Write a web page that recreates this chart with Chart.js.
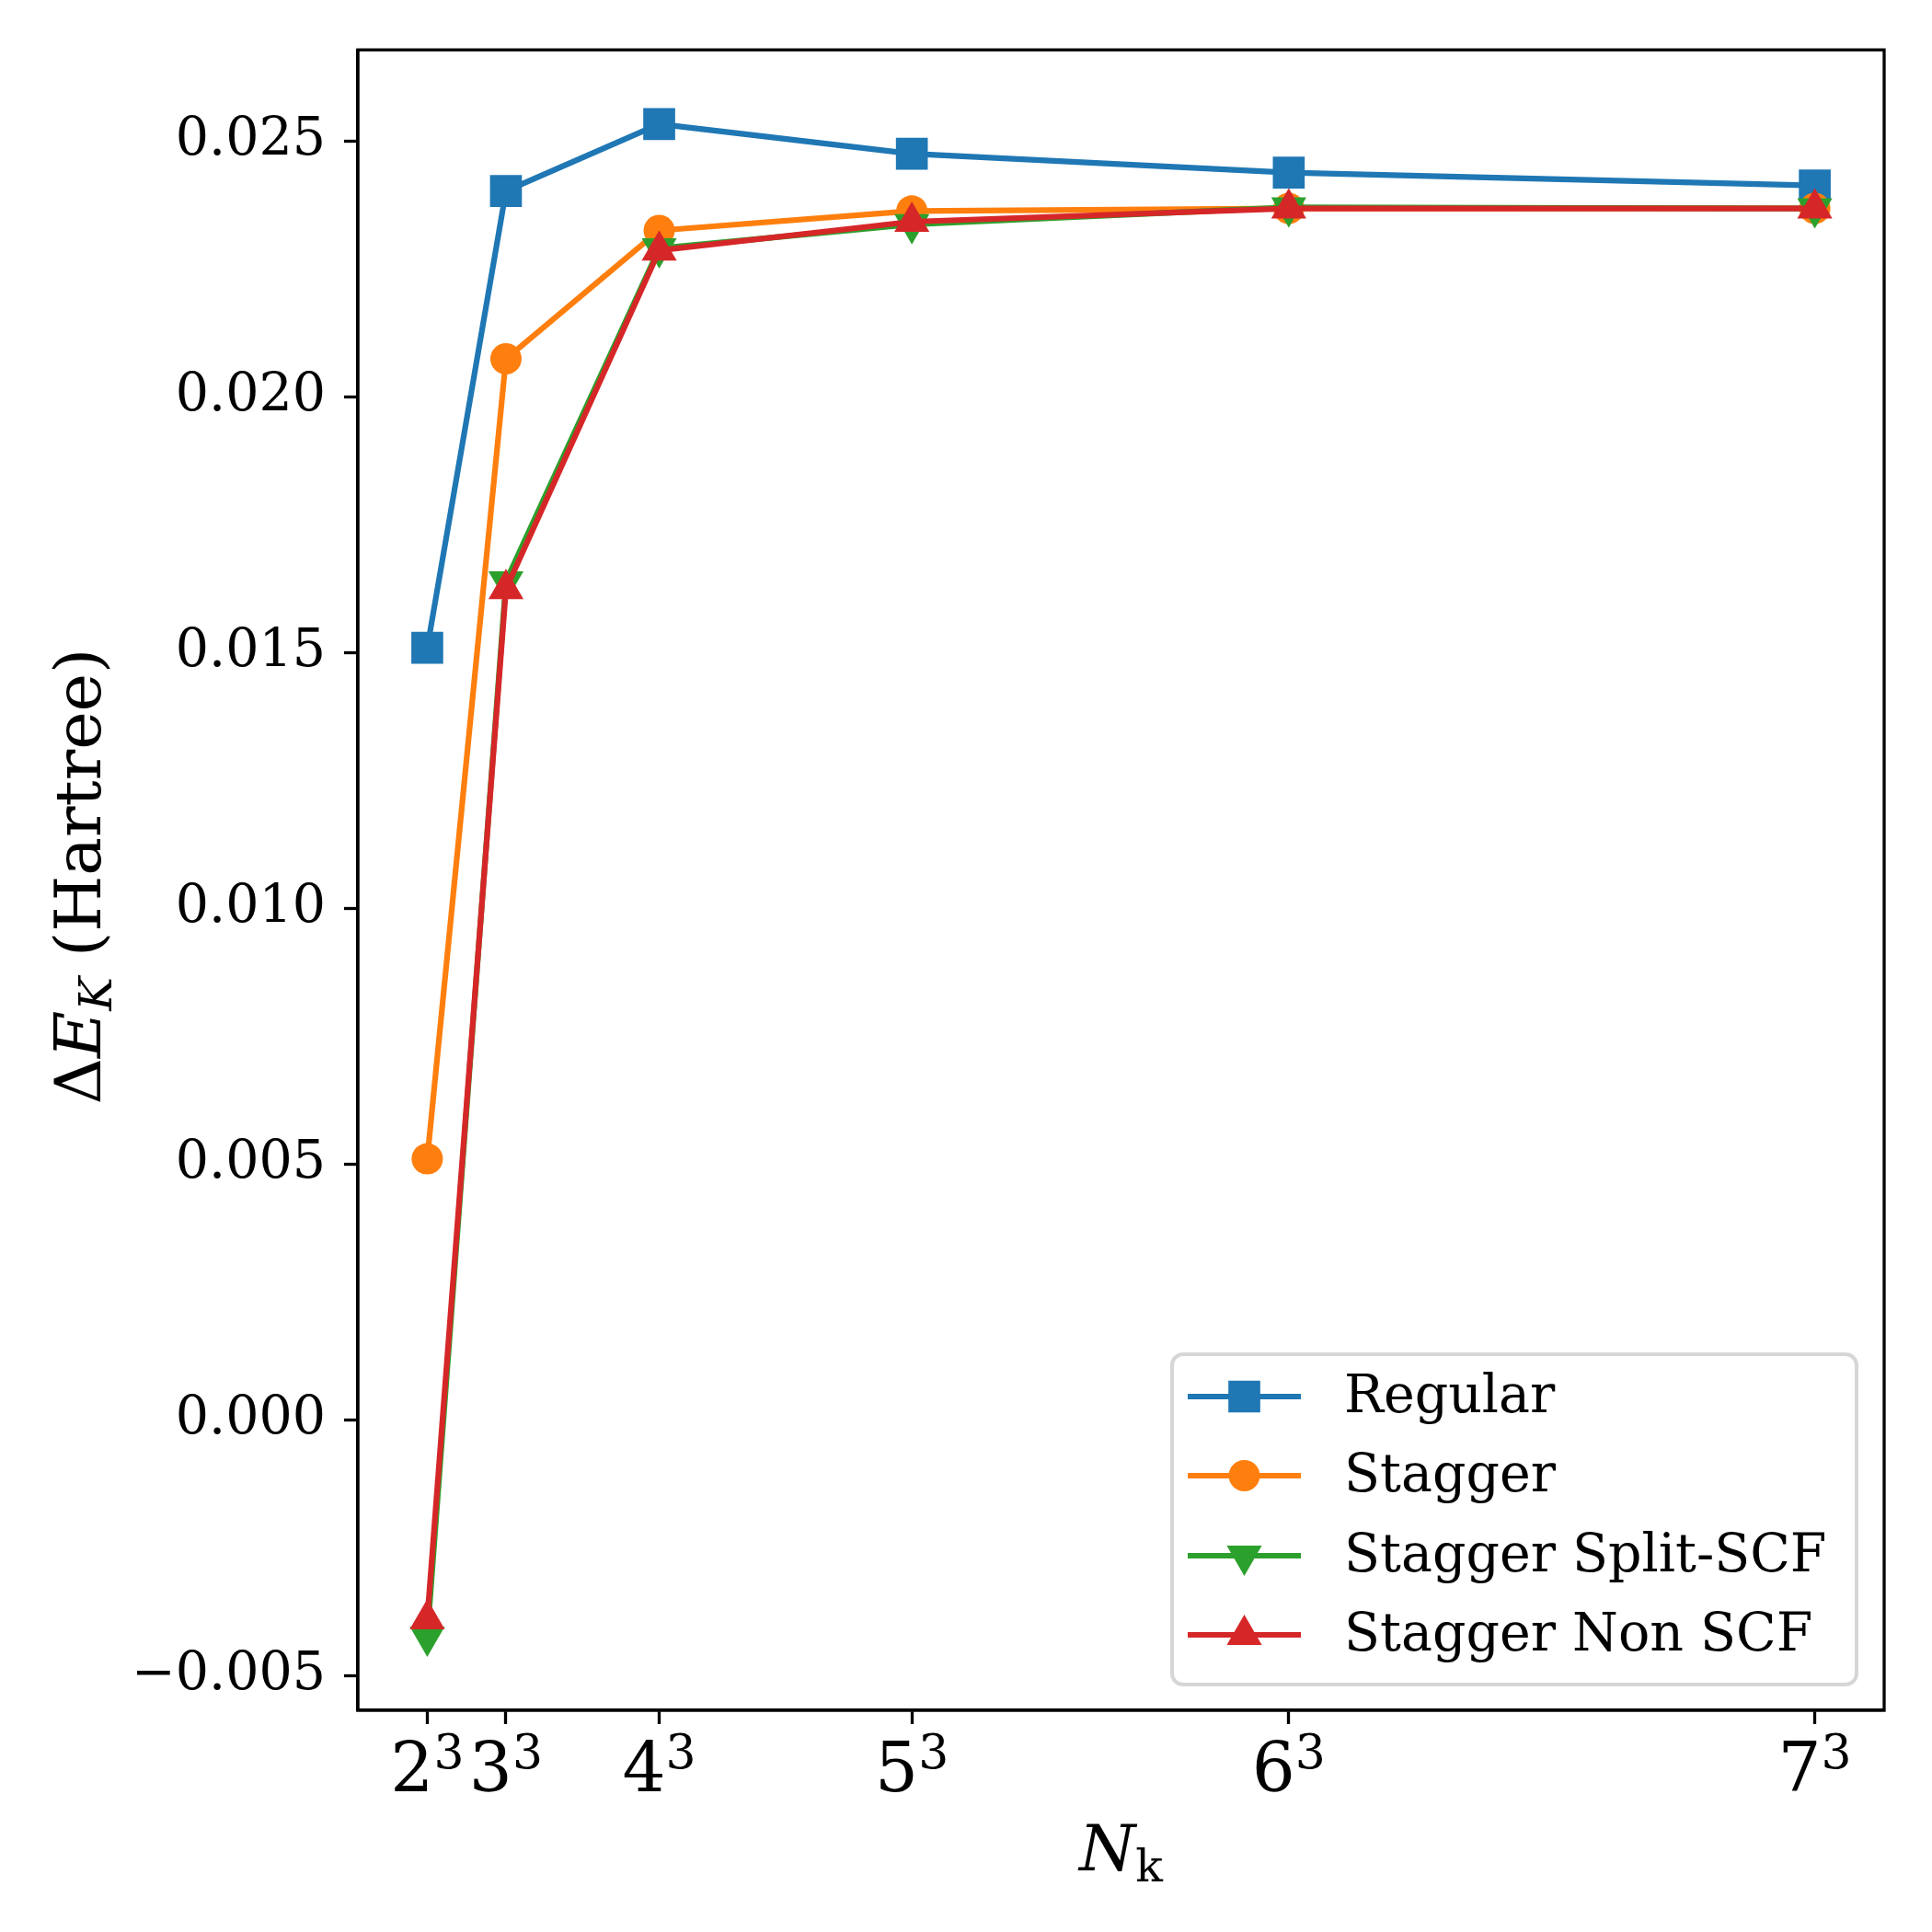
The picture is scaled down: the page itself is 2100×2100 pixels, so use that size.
<!DOCTYPE html>
<html>
<head>
<meta charset="utf-8">
<script src="https://cdn.jsdelivr.net/npm/chart.js@4.4.0/dist/chart.umd.min.js"></script>
<style>
    html, body { margin: 0; padding: 0; background: #ffffff; }
    #chart { display: block; }
</style>
</head>
<body>
<canvas id="chart" width="2100" height="2100"></canvas>
<script>
// k-point grids (N_k = n^3): base and exponent of each tick label
const kPoints = [8, 27, 64, 125, 216, 343];
const kBases = ["2", "3", "4", "5", "6", "7"];
const kExponent = "3";
const yTicks = [-0.005, 0, 0.005, 0.010, 0.015, 0.020, 0.025];

// Delta E_K in Hartree
const regular = [0.01509, 0.02402, 0.02533, 0.02475, 0.02438, 0.02413];
const stagger = [0.00510, 0.02074, 0.02325, 0.02363, 0.02368, 0.02368];
const staggerSplit = [-0.00424, 0.01639, 0.02290, 0.02337, 0.02370, 0.02368];
const staggerNonScf = [-0.00390, 0.01624, 0.02286, 0.02342, 0.02368, 0.02368];

const seriesNames = ["Regular", "Stagger", "Stagger Split-SCF", "Stagger Non SCF"];
const seriesColors = ["#1f77b4", "#ff7f0e", "#2ca02c", "#d62728"];

const FONT = "'DejaVu Serif', 'Liberation Serif', serif";

const markers = [
    { style: "rect", radius: 24.5, rotation: 0 },
    { style: "circle", radius: 17, rotation: 0 },
    { style: "triangle", radius: 22, rotation: 180 },
    { style: "triangle", radius: 22, rotation: 0 }
];

function toPoints(values) {
    return kPoints.map((k, i) => ({ x: k, y: values[i] }));
}

function makeDataset(index, values) {
    const m = markers[index];
    return {
        label: seriesNames[index],
        data: toPoints(values),
        borderColor: seriesColors[index],
        backgroundColor: seriesColors[index],
        borderWidth: 6.2,
        borderJoinStyle: "round",
        pointStyle: m.style,
        pointRadius: m.radius,
        pointRotation: m.rotation,
        pointBorderWidth: 0,
        pointBackgroundColor: seriesColors[index],
        fill: false,
        tension: 0,
        // later series sit on top, as in the original
        order: 3 - index
    };
}

function drawMarker(ctx, m, x, y, color) {
    ctx.fillStyle = color;
    ctx.beginPath();
    if (m.style === "rect") {
        const s = Math.SQRT1_2 * m.radius;
        ctx.rect(x - s, y - s, 2 * s, 2 * s);
    } else if (m.style === "circle") {
        ctx.arc(x, y, m.radius, 0, Math.PI * 2);
    } else {
        let rad = m.rotation * Math.PI / 180;
        ctx.moveTo(x + Math.sin(rad) * m.radius, y - Math.cos(rad) * m.radius);
        rad += 2 * Math.PI / 3;
        ctx.lineTo(x + Math.sin(rad) * m.radius, y - Math.cos(rad) * m.radius);
        rad += 2 * Math.PI / 3;
        ctx.lineTo(x + Math.sin(rad) * m.radius, y - Math.cos(rad) * m.radius);
        ctx.closePath();
    }
    ctx.fill();
}

// full box around the axes, drawn over the lines like matplotlib spines
const frameBox = {
    id: "frameBox",
    afterDatasetsDraw(chart) {
        const { ctx, chartArea } = chart;
        ctx.save();
        ctx.strokeStyle = "#000000";
        ctx.lineWidth = 3.3;
        ctx.strokeRect(chartArea.left, chartArea.top,
            chartArea.right - chartArea.left, chartArea.bottom - chartArea.top);
        ctx.restore();
    }
};

function drawRun(ctx, parts, startX, baseY) {
    let x = startX;
    parts.forEach((p) => {
        ctx.font = p.font;
        ctx.fillText(p.text, x, baseY + p.dy);
        x += p.width;
    });
}

function measureRun(ctx, parts) {
    let total = 0;
    parts.forEach((p) => {
        ctx.font = p.font;
        p.width = ctx.measureText(p.text).width;
        total += p.width;
    });
    return total;
}

// x tick labels with superscripts, and the two axis titles
const axisText = {
    id: "axisText",
    afterDraw(chart) {
        const { ctx, chartArea } = chart;
        const xScale = chart.scales.x;
        ctx.save();
        ctx.fillStyle = "#000000";
        ctx.textBaseline = "alphabetic";
        ctx.textAlign = "left";

        kPoints.forEach((k, i) => {
            const parts = [
                { text: kBases[i], font: `74px ${FONT}`, dy: 0 },
                { text: kExponent, font: `52px ${FONT}`, dy: -25 }
            ];
            const w = measureRun(ctx, parts);
            drawRun(ctx, parts, xScale.getPixelForValue(k) - w / 2, 1947);
        });

        // y title: ΔE_K (Hartree), rotated
        const size = 70;
        const subSize = Math.round(size * 0.7);
        const yParts = [
            { text: "Δ", font: `${size}px ${FONT}`, dy: 0 },
            { text: "E", font: `italic ${size}px ${FONT}`, dy: 0 },
            { text: "K", font: `italic ${subSize}px ${FONT}`, dy: 12 },
            { text: " (Hartree)", font: `${size}px ${FONT}`, dy: 0 }
        ];
        const yTotal = measureRun(ctx, yParts);
        const midY = (chartArea.top + chartArea.bottom) / 2;
        ctx.translate(109, midY - 4);
        ctx.rotate(-Math.PI / 2);
        drawRun(ctx, yParts, -yTotal / 2, 0);
        ctx.setTransform(1, 0, 0, 1, 0, 0);

        // x title: N_k
        const xParts = [
            { text: "N", font: `italic ${size}px ${FONT}`, dy: 0 },
            { text: "k", font: `${subSize}px ${FONT}`, dy: 12 }
        ];
        const xTotal = measureRun(ctx, xParts);
        const midX = (chartArea.left + chartArea.right) / 2;
        drawRun(ctx, xParts, midX - xTotal / 2, 2033);
        ctx.restore();
    }
};

// legend box in the lower right corner of the axes
const boxLegend = {
    id: "boxLegend",
    afterDraw(chart) {
        const { ctx } = chart;
        const left = 1274, top = 1472, right = 2018, bottom = 1831;
        const rowY = [1518, 1604, 1691, 1777];
        ctx.save();
        ctx.beginPath();
        ctx.roundRect(left, top, right - left, bottom - top, 12);
        ctx.fillStyle = "rgba(255,255,255,0.8)";
        ctx.fill();
        ctx.lineWidth = 4;
        ctx.strokeStyle = "#d6d6d6";
        ctx.stroke();

        seriesNames.forEach((name, i) => {
            const y = rowY[i];
            ctx.strokeStyle = seriesColors[i];
            ctx.lineWidth = 6.2;
            ctx.beginPath();
            ctx.moveTo(1291, y);
            ctx.lineTo(1414, y);
            ctx.stroke();
            drawMarker(ctx, markers[i], 1352.5, y, seriesColors[i]);

            ctx.fillStyle = "#000000";
            ctx.font = `57px ${FONT}`;
            ctx.textBaseline = "middle";
            ctx.textAlign = "left";
            ctx.fillText(name, 1461, y + 2);
        });
        ctx.restore();
    }
};

const ctx = document.getElementById("chart");

new Chart(ctx, {
    type: "line",
    data: {
        datasets: [
            makeDataset(0, regular),
            makeDataset(1, stagger),
            makeDataset(2, staggerSplit),
            makeDataset(3, staggerNonScf)
        ]
    },
    options: {
        responsive: false,
        devicePixelRatio: 1,
        animation: false,
        events: [],
        layout: {
            padding: { top: 53, right: 52, left: 0, bottom: 0 }
        },
        plugins: {
            legend: { display: false },
            tooltip: { enabled: false },
            title: { display: false }
        },
        scales: {
            x: {
                type: "linear",
                min: -8.75,
                max: 359.75,
                afterBuildTicks: (scale) => {
                    scale.ticks = kPoints.map((v) => ({ value: v }));
                },
                afterFit: (scale) => {
                    scale.height = 241;
                },
                grid: {
                    drawOnChartArea: false,
                    drawTicks: true,
                    tickLength: 15,
                    tickWidth: 3.3,
                    tickColor: "#000000"
                },
                border: { display: true, color: "#000000", width: 3.3 },
                ticks: { display: false, autoSkip: false }
            },
            y: {
                type: "linear",
                min: -0.00568,
                max: 0.02678,
                afterBuildTicks: (scale) => {
                    scale.ticks = yTicks.map((v) => ({ value: v }));
                },
                afterFit: (scale) => {
                    scale.width = 389;
                },
                grid: {
                    drawOnChartArea: false,
                    drawTicks: true,
                    tickLength: 15,
                    tickWidth: 3.3,
                    tickColor: "#000000"
                },
                border: { display: true, color: "#000000", width: 3.3 },
                ticks: {
                    autoSkip: false,
                    padding: 20,
                    color: "#000000",
                    font: { family: FONT, size: 57 },
                    callback: (value) => {
                        const text = Math.abs(value).toFixed(3);
                        return value < -1e-9 ? "\u2212" + text : text;
                    }
                }
            }
        }
    },
    plugins: [frameBox, axisText, boxLegend]
});
</script>
</body>
</html>
